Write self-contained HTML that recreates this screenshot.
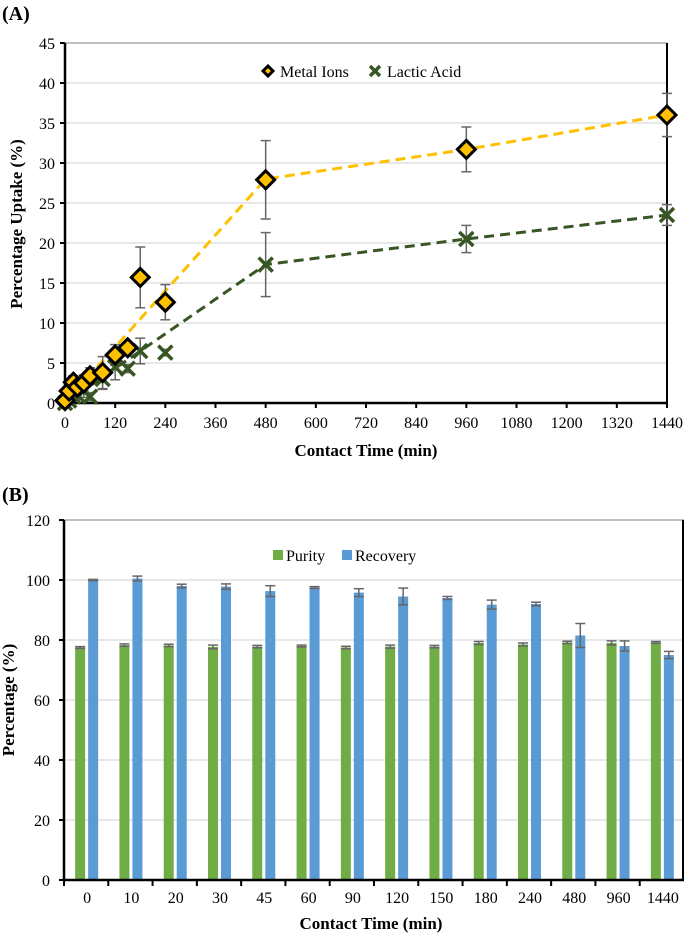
<!DOCTYPE html>
<html><head><meta charset="utf-8">
<style>
body{margin:0;background:#fff;}
svg{display:block;font-family:"Liberation Serif",serif;}
</style></head>
<body>
<svg width="685" height="937" viewBox="0 0 685 937">
<text x="2" y="20" font-size="20" font-weight="bold">(A)</text>
<text x="2" y="501" font-size="20" font-weight="bold">(B)</text>
<g id="chartA"></g>
<g id="chartB"></g>
</svg>
<script>
// ---- Chart A data ----
const timesA = [0,10,20,30,45,60,90,120,150,180,240,480,960,1440];
const metalVals = [0.3,1.5,2.6,2.0,2.5,3.4,3.8,6.0,6.9,15.7,12.6,27.9,31.7,36.0];
const metalErr = [0.3,0.6,0.8,0.8,1.0,1.0,2.0,1.3,0.5,3.8,2.2,4.9,2.8,2.7];
const lacticVals = [0.0,0.3,0.8,1.0,1.5,0.8,3.0,4.5,4.3,6.5,6.3,17.3,20.5,23.5];
const lacticErr = [0.2,0.3,0.5,0.6,0.8,0.5,1.3,1.6,0.5,1.6,0.4,4.0,1.7,1.3];
const metalLineT = [0,480,960,1440];
const metalLineV = [0,28.0,31.7,36.0];
const lacticLineT = [0,480,960,1440];
const lacticLineV = [0,17.3,20.5,23.5];
const xTicksA = [0,120,240,360,480,600,720,840,960,1080,1200,1320,1440];
const yTicksA = [0,5,10,15,20,25,30,35,40,45];
// ---- Chart B data ----
const catsB = ["0","10","20","30","45","60","90","120","150","180","240","480","960","1440"];
const purityVals = [77.5,78.3,78.2,77.7,77.8,78.0,77.5,77.8,77.8,79.0,78.5,79.2,79.0,79.2];
const purityErr = [0.3,0.4,0.4,0.6,0.4,0.3,0.4,0.5,0.4,0.5,0.5,0.4,0.7,0.3];
const recoveryVals = [100.0,100.5,98.0,97.8,96.3,97.5,95.8,94.5,94.0,91.8,92.0,81.5,78.0,75.0];
const recoveryErr = [0.2,0.8,0.6,0.9,1.8,0.3,1.3,2.8,0.5,1.5,0.6,4.0,1.7,1.2];
const yTicksB = [0,20,40,60,80,100,120];

const NS="http://www.w3.org/2000/svg";
function mk(parent,tag,attrs,name,text){
  const el=document.createElementNS(NS,tag);
  for(const k in attrs) el.setAttribute(k,attrs[k]);
  
  
  if(text!==undefined) el.textContent=text;
  parent.appendChild(el);return el;
}
// ---- Chart A ----
const A=document.getElementById('chartA');
const ax0=65, ax1=667, ay0=403, ay1=43;
const xA=t=>ax0+(ax1-ax0)*t/1440;
const yA=v=>ay0+(ay1-ay0)*v/45;
yTicksA.forEach(v=>{
  if(v>0) mk(A,'line',{x1:ax0,x2:ax1,y1:yA(v),y2:yA(v),stroke:v==45?'#999':'#d9d9d9','stroke-width':1.3},'grid-line-a');
  mk(A,'line',{x1:ax0-5,x2:ax0,y1:yA(v),y2:yA(v),stroke:'#000','stroke-width':2},'y-tick-a');
  mk(A,'text',{x:ax0-10,y:yA(v)+6,'font-size':16,'text-anchor':'end'},'y-tick-label-a',v);
});
mk(A,'line',{x1:ax1,x2:ax1,y1:ay1,y2:ay0,stroke:'#000','stroke-width':2},'right-border-a');
xTicksA.forEach(t=>{
  mk(A,'line',{x1:xA(t),x2:xA(t),y1:ay0,y2:ay0+5,stroke:'#000','stroke-width':2},'x-tick-a');
  mk(A,'text',{x:xA(t),y:ay0+25,'font-size':16,'text-anchor':'middle'},'x-tick-label-a',t);
});
mk(A,'line',{x1:ax0,x2:ax0,y1:ay1,y2:ay0+1,stroke:'#000','stroke-width':2.5},'y-axis-a');
mk(A,'line',{x1:ax0,x2:ax1,y1:ay0,y2:ay0,stroke:'#000','stroke-width':2.5},'x-axis-a');
mk(A,'polyline',{points:metalLineT.map((t,i)=>xA(t)+','+yA(metalLineV[i])).join(' '),fill:'none',stroke:'#ffc000','stroke-width':3,'stroke-dasharray':'10,6'},'metal-ions-line');
mk(A,'polyline',{points:lacticLineT.map((t,i)=>xA(t)+','+yA(lacticLineV[i])).join(' '),fill:'none',stroke:'#375623','stroke-width':3,'stroke-dasharray':'10,6'},'lactic-acid-line');
function errbar(g,x,v,e,yf,name){
  mk(g,'line',{x1:x,x2:x,y1:yf(v-e),y2:yf(v+e),stroke:'#666','stroke-width':1.5},name);
  mk(g,'line',{x1:x-5,x2:x+5,y1:yf(v+e),y2:yf(v+e),stroke:'#666','stroke-width':1.5},name+'-cap');
  mk(g,'line',{x1:x-5,x2:x+5,y1:yf(v-e),y2:yf(v-e),stroke:'#666','stroke-width':1.5},name+'-cap');
}
timesA.forEach((t,i)=>{errbar(A,xA(t),metalVals[i],metalErr[i],yA,'metal-error-bar');errbar(A,xA(t),lacticVals[i],lacticErr[i],yA,'lactic-error-bar');});
function xmark(g,x,y,s,name){
  mk(g,'path',{d:`M${x-s},${y-s}L${x+s},${y+s}M${x-s},${y+s}L${x+s},${y-s}`,stroke:'#375623','stroke-width':3.5},name);
}
function diamond(g,x,y,s,name){
  mk(g,'path',{d:`M${x},${y-s}L${x+s},${y}L${x},${y+s}L${x-s},${y}Z`,fill:'#ffc000',stroke:'#000','stroke-width':3},name);
}
timesA.forEach((t,i)=>xmark(A,xA(t),yA(lacticVals[i]),7,'lactic-acid-point'));
timesA.forEach((t,i)=>diamond(A,xA(t),yA(metalVals[i]),9,'metal-ions-point'));
diamond(A,268,71,5,'legend-metal-marker');
mk(A,'text',{x:280,y:77,'font-size':16},'legend-metal-label','Metal Ions');
xmark(A,375,71,5,'legend-lactic-marker');
mk(A,'text',{x:387,y:77,'font-size':16},'legend-lactic-label','Lactic Acid');
mk(A,'text',{x:366,y:456,'font-size':17,'font-weight':'bold','text-anchor':'middle'},'x-axis-title-a','Contact Time (min)');
mk(A,'text',{x:22,y:224,'font-size':17,'font-weight':'bold','text-anchor':'middle',transform:'rotate(-90 22 224)'},'y-axis-title-a','Percentage Uptake (%)');
// ---- Chart B ----
const B=document.getElementById('chartB');
const bx0=64, bx1=684, by0=880, by1=520;
const cw=(bx1-bx0)/catsB.length;
const yB=v=>by0+(by1-by0)*v/120;
yTicksB.forEach(v=>{
  if(v>0) mk(B,'line',{x1:bx0,x2:bx1,y1:yB(v),y2:yB(v),stroke:v==120?'#999':'#d9d9d9','stroke-width':1.3},'grid-line-b');
  mk(B,'line',{x1:bx0-5,x2:bx0,y1:yB(v),y2:yB(v),stroke:'#000','stroke-width':2},'y-tick-b');
  mk(B,'text',{x:bx0-14,y:yB(v)+6,'font-size':16,'text-anchor':'end'},'y-tick-label-b',v);
});
mk(B,'line',{x1:bx1-1,x2:bx1-1,y1:by1,y2:by0,stroke:'#000','stroke-width':2},'right-border-b');
catsB.forEach((c,i)=>{
  const cx=bx0+cw*(i+0.5);
  mk(B,'line',{x1:bx0+cw*i,x2:bx0+cw*i,y1:by0,y2:by0+6,stroke:'#000','stroke-width':2},'x-tick-b');
  mk(B,'rect',{x:cx-11,y:yB(purityVals[i]),width:10,height:by0-yB(purityVals[i]),fill:'#70ad47'},'purity-bar');
  mk(B,'rect',{x:cx+2,y:yB(recoveryVals[i]),width:10,height:by0-yB(recoveryVals[i]),fill:'#5b9bd5'},'recovery-bar');
  errbar(B,cx-6,purityVals[i],purityErr[i],yB,'purity-error-bar');
  errbar(B,cx+7,recoveryVals[i],recoveryErr[i],yB,'recovery-error-bar');
  mk(B,'text',{x:cx+1,y:by0+23,'font-size':16,'text-anchor':'middle'},'x-tick-label-b',c);
});
mk(B,'line',{x1:bx0,x2:bx0,y1:by1,y2:by0+1,stroke:'#000','stroke-width':2.5},'y-axis-b');
mk(B,'line',{x1:bx0,x2:bx1,y1:by0,y2:by0,stroke:'#000','stroke-width':2.5},'x-axis-b');
mk(B,'rect',{x:273,y:550,width:10,height:10,fill:'#70ad47'},'legend-purity-swatch');
mk(B,'text',{x:286,y:561,'font-size':16},'legend-purity-label','Purity');
mk(B,'rect',{x:342,y:550,width:10,height:10,fill:'#5b9bd5'},'legend-recovery-swatch');
mk(B,'text',{x:355,y:561,'font-size':16},'legend-recovery-label','Recovery');
mk(B,'text',{x:371,y:929,'font-size':17,'font-weight':'bold','text-anchor':'middle'},'x-axis-title-b','Contact Time (min)');
mk(B,'text',{x:14,y:700,'font-size':17,'font-weight':'bold','text-anchor':'middle',transform:'rotate(-90 14 700)'},'y-axis-title-b','Percentage (%)');
</script>
</body></html>
